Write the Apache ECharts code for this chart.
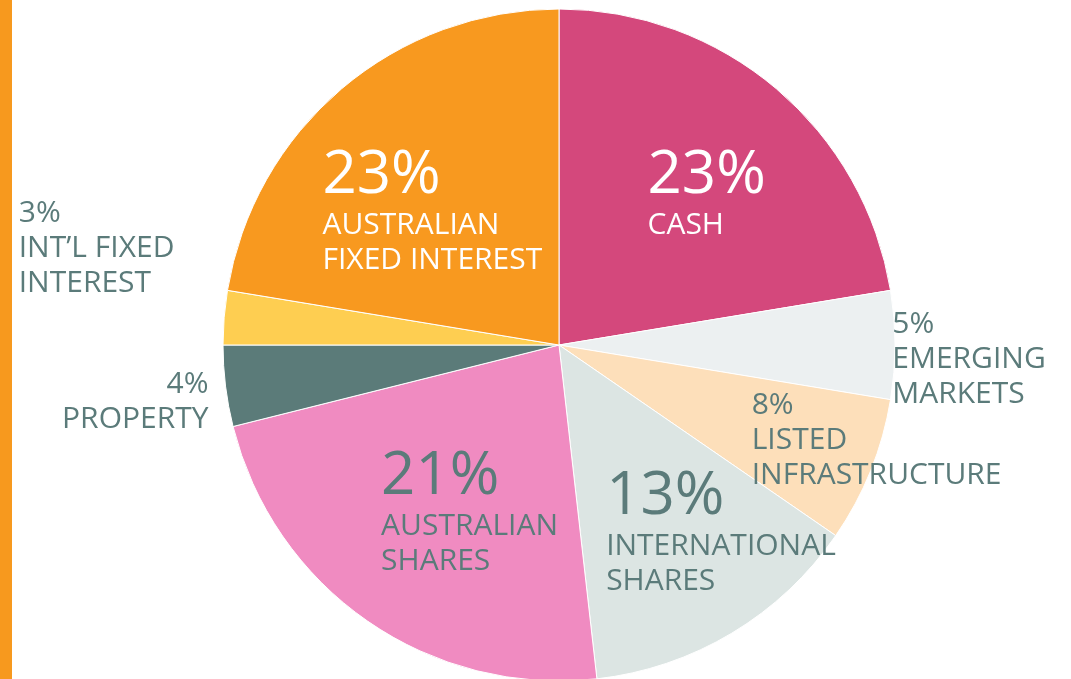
<!DOCTYPE html>
<html>
<head>
<meta charset="utf-8">
<title>Asset allocation</title>
<script src="https://cdn.jsdelivr.net/npm/echarts@6/dist/echarts.min.js"></script>
<style>
  html, body { margin: 0; padding: 0; background: #fff; }
  .echarts_pie { width: 1071px; height: 679px; }
</style>
</head>
<body>
<div class="echarts_pie"></div>
<script>
// slice names, one entry per text line
var names = [
  ['CASH'],
  ['EMERGING', 'MARKETS'],
  ['LISTED', 'INFRASTRUCTURE'],
  ['INTERNATIONAL', 'SHARES'],
  ['AUSTRALIAN', 'SHARES'],
  ['PROPERTY'],
  ['INT\u2019L FIXED', 'INTEREST'],
  ['AUSTRALIAN', 'FIXED INTEREST']
];
// share of the circle each slice takes
var shares = [22.4, 5.2, 7.0, 13.6, 22.9, 3.9, 2.6, 22.4];
// percentages as printed on the chart
var printed = [23, 5, 8, 13, 21, 4, 3, 23];

var colors = ['#D4487C', '#ECF0F1', '#FDDFBA', '#DCE5E3', '#F08BC1', '#5B7B79', '#FECE51', '#F8991F'];
var textColors = ['#fff', '#5B7B7A', '#5B7B7A', '#5B7B7A', '#5B7B7A', '#5B7B7A', '#5B7B7A', '#fff'];
// label shift from the slice's inside point
var shift = [[37, -21], [239, 14.5], [159, 31.5], [74, 40], [8, 26.5], [-254, 36], [-292, -82.5], [-16, -4]];

var chart = echarts.init(document.querySelector('.echarts_pie'));

var data = shares.map(function (v, i) {
  var right = names[i][0] === 'PROPERTY';
  var sm = right ? 'smR' : 'sm';
  var big = printed[i] >= 10 ? 'big' : sm;
  var txt = '{' + big + '|' + printed[i] + '%}';
  names[i].forEach(function (line) { txt += '\n{' + sm + '|' + line + '}'; });
  return {
    value: v,
    name: names[i].join(' '),
    itemStyle: { color: colors[i] },
    label: { formatter: txt, color: textColors[i] }
  };
});

var option = {
  animation: false,
  // orange strip on the left edge
  graphic: [{
    type: 'rect',
    left: 0, top: 0,
    shape: { width: 12, height: 679 },
    style: { fill: '#F7991E' }
  }],
  series: [{
    type: 'pie',
    center: [559, 345],
    radius: 336,
    startAngle: 90,
    clockwise: true,
    avoidLabelOverlap: false,
    itemStyle: { borderColor: '#fff', borderWidth: 1 },
    label: {
      show: true,
      position: 'inside',
      overflow: 'none',
      fontFamily: 'Open Sans',
      rich: {
        big: { fontSize: 60, lineHeight: 64, align: 'left', fontFamily: 'Open Sans' },
        sm: { fontSize: 30, lineHeight: 35, align: 'left', fontFamily: 'Open Sans' },
        smR: { fontSize: 30, lineHeight: 35, align: 'right', fontFamily: 'Open Sans' }
      }
    },
    labelLine: { show: false },
    labelLayout: function (params) {
      var s = shift[params.dataIndex];
      return { dx: s[0], dy: s[1] };
    },
    emphasis: { disabled: true },
    data: data
  }]
};

chart.setOption(option);
</script>
</body>
</html>
